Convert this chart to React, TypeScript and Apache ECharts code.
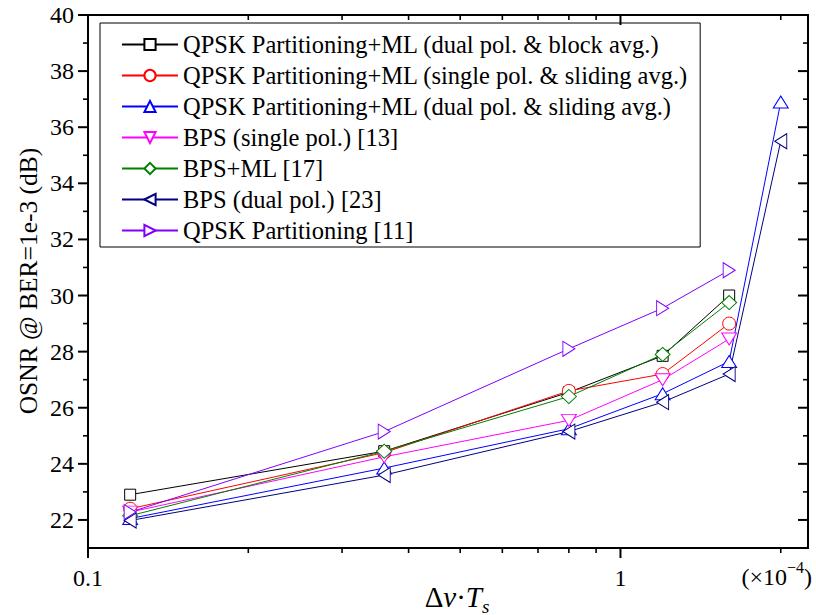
import React, { useEffect, useRef } from 'react';
import * as echarts from 'echarts';

const xValues = [0.12, 0.36, 0.8, 1.2, 1.6, 2.0];
const qpskMlDualBlock = [22.9, 24.45, 26.55, 27.85, 30.0];
const qpskMlSingleSliding = [22.4, 24.4, 26.6, 27.2, 29.0];
const qpskMlDualSliding = [22.05, 23.85, 25.25, 26.5, 27.65, 36.9];
const bpsSingle = [22.28, 24.25, 25.55, 27.0, 28.45];
const bpsMl = [22.15, 24.45, 26.4, 27.9, 29.75];
const bpsDual = [21.98, 23.6, 25.15, 26.2, 27.2, 35.5];
const qpskPartitioning = [22.28, 25.15, 28.1, 29.55, 30.9];

const seriesNames = [
  'QPSK Partitioning+ML (dual pol. & block avg.)',
  'QPSK Partitioning+ML (single pol. & sliding avg.)',
  'QPSK Partitioning+ML (dual pol. & sliding avg.)',
  'BPS (single pol.) [13]',
  'BPS+ML [17]',
  'BPS (dual pol.) [23]',
  'QPSK Partitioning [11]',
];
const seriesValues = [
  qpskMlDualBlock,
  qpskMlSingleSliding,
  qpskMlDualSliding,
  bpsSingle,
  bpsMl,
  bpsDual,
  qpskPartitioning,
];
const seriesColors = ['#000000', '#ff0000', '#0000ff', '#ff00ff', '#008000', '#000080', '#8000ff'];

const xMajorTicks = [0.1, 1];
const xMinorTicks = [0.2, 0.3, 0.4, 0.5, 0.6, 0.7, 0.8, 0.9, 2];
const yTickValues = [22, 23, 24, 25, 26, 27, 28, 29, 30, 31, 32, 33, 34, 35, 36, 37, 38, 39, 40];

const X_MIN = 0.1;
const X_MAX = 2.25;
const Y_MIN = 21;
const Y_MAX = 40;

const FONT = "'Liberation Serif', 'Times New Roman', serif";

function measure(text: string, font: string): number {
  const c = document.createElement('canvas');
  const ctx = c.getContext('2d');
  if (!ctx) return text.length * 10;
  ctx.font = font;
  return ctx.measureText(text).width;
}

const symbolDefs = [
  { symbol: 'rect', size: [11, 11], rotate: 0 },
  { symbol: 'circle', size: [13, 13], rotate: 0 },
  { symbol: 'triangle', size: [15, 12], rotate: 0 },
  { symbol: 'triangle', size: [15, 12], rotate: 180 },
  { symbol: 'diamond', size: [15, 14], rotate: 0 },
  { symbol: 'triangle', size: [15, 12], rotate: 90 },
  { symbol: 'triangle', size: [15, 12], rotate: -90 },
];

export default function App() {
  const ref = useRef<HTMLDivElement>(null);

  useEffect(() => {
    if (!ref.current) return;
    const chart = echarts.init(ref.current, undefined, { renderer: 'svg' });

    const lineSeries = seriesNames.map((name, i) => ({
      name,
      type: 'line',
      data: seriesValues[i].map((v, j) => [xValues[j], v]),
      symbol: symbolDefs[i].symbol,
      symbolSize: symbolDefs[i].size,
      symbolRotate: symbolDefs[i].rotate,
      showSymbol: true,
      lineStyle: { color: seriesColors[i], width: 1 },
      itemStyle: { color: '#ffffff', borderColor: seriesColors[i], borderWidth: 1 },
      emphasis: { disabled: true },
      z: 3,
    }));

    const xTickData = [
      ...xMajorTicks.map((v) => [v, Y_MIN, 1]),
      ...xMinorTicks.map((v) => [v, Y_MIN, 0]),
    ];
    const yTickData = yTickValues.map((v) => [X_MIN, v, v % 2 === 0 ? 1 : 0]);

    const tickStyle = (major: number) => ({ stroke: '#000', lineWidth: major ? 2 : 1.6 });

    const xTickSeries = {
      type: 'custom',
      name: 'xticks',
      silent: true,
      clip: false,
      z: 5,
      encode: { x: 0, y: 1 },
      data: xTickData,
      renderItem: (params: any, api: any) => {
        const v = api.value(0);
        const major = api.value(2);
        const b = api.coord([v, Y_MIN]);
        const t = api.coord([v, Y_MAX]);
        const len = major ? 10 : 5;
        return {
          type: 'group',
          children: [
            { type: 'line', shape: { x1: b[0], y1: b[1], x2: b[0], y2: b[1] + len }, style: tickStyle(major) },
            { type: 'line', shape: { x1: t[0], y1: t[1], x2: t[0], y2: t[1] + len }, style: tickStyle(major) },
          ],
        };
      },
    };

    const yTickSeries = {
      type: 'custom',
      name: 'yticks',
      silent: true,
      clip: false,
      z: 5,
      encode: { x: 0, y: 1 },
      data: yTickData,
      renderItem: (params: any, api: any) => {
        const v = api.value(1);
        const major = api.value(2);
        const l = api.coord([X_MIN, v]);
        const r = api.coord([X_MAX, v]);
        const len = major ? 10 : 5;
        return {
          type: 'group',
          children: [
            { type: 'line', shape: { x1: l[0] - len, y1: l[1], x2: l[0], y2: l[1] }, style: tickStyle(major) },
            { type: 'line', shape: { x1: r[0] - len, y1: r[1], x2: r[0], y2: r[1] }, style: tickStyle(major) },
          ],
        };
      },
    };

    // X axis title pieces
    const tFont = 29;
    const subFont = 19;
    const fN = `${tFont}px ${FONT}`;
    const fI = `italic ${tFont}px ${FONT}`;
    const fS = `italic ${subFont}px ${FONT}`;
    const pieces = [
      { t: 'Δ', f: fN, style: 'normal', size: tFont, dy: 0 },
      { t: 'v', f: fI, style: 'italic', size: tFont, dy: 0 },
      { t: '·', f: fN, style: 'normal', size: tFont, dy: 0 },
      { t: 'T', f: fI, style: 'italic', size: tFont, dy: 0 },
      { t: 's', f: fS, style: 'italic', size: subFont, dy: 9 },
    ];
    const widths = pieces.map((p) => measure(p.t, p.f));
    const total = widths.reduce((a, b) => a + b, 0);
    let cx = 457 - total / 2;
    const titleEls: any[] = pieces.map((p, i) => {
      const el = {
        type: 'text',
        x: cx,
        y: 597 + p.dy,
        silent: true,
        style: {
          text: p.t,
          fontFamily: FONT,
          fontSize: p.size,
          fontStyle: p.style,
          fill: '#000',
          textAlign: 'left',
          verticalAlign: 'middle',
        },
      };
      cx += widths[i];
      return el;
    });

    // (x10^-4)
    const uFont = 24;
    const supFont = 16;
    const uA = '(×10';
    const uB = '−4';
    const uC = ')';
    const wA = measure(uA, `${uFont}px ${FONT}`);
    const wB = measure(uB, `${supFont}px ${FONT}`);
    const wC = measure(uC, `${uFont}px ${FONT}`);
    const uRight = 812;
    const uStart = uRight - (wA + wB + wC);
    const unitEls: any[] = [
      { t: uA, x: uStart, y: 577, s: uFont },
      { t: uB, x: uStart + wA, y: 567, s: supFont },
      { t: uC, x: uStart + wA + wB, y: 577, s: uFont },
    ].map((p) => ({
      type: 'text',
      x: p.x,
      y: p.y,
      silent: true,
      style: {
        text: p.t,
        fontFamily: FONT,
        fontSize: p.s,
        fill: '#000',
        textAlign: 'left',
        verticalAlign: 'middle',
      },
    }));

    const option: any = {
      animation: false,
      backgroundColor: '#ffffff',
      grid: {
        left: 88,
        right: 8,
        top: 15,
        bottom: 67,
        show: true,
        borderColor: '#000',
        borderWidth: 2,
        backgroundColor: 'transparent',
      },
      xAxis: {
        type: 'log',
        logBase: 10,
        min: X_MIN,
        max: X_MAX,
        axisLine: { show: false },
        axisTick: { show: false },
        splitLine: { show: false },
        minorTick: { show: false },
        axisLabel: {
          margin: 18,
          fontFamily: FONT,
          fontSize: 24,
          color: '#000',
          showMaxLabel: false,
          formatter: (v: number) => {
            const l = Math.log10(v);
            return Math.abs(l - Math.round(l)) < 1e-6 ? String(Math.round(v * 10) / 10) : '';
          },
        },
      },
      yAxis: {
        type: 'value',
        min: Y_MIN,
        max: Y_MAX,
        interval: 1,
        axisLine: { show: false },
        axisTick: { show: false },
        splitLine: { show: false },
        axisLabel: {
          margin: 14,
          fontFamily: FONT,
          fontSize: 24,
          color: '#000',
          formatter: (v: number) => (v % 2 === 0 ? String(v) : ''),
        },
      },
      legend: {
        data: seriesNames,
        orient: 'vertical',
        left: 100,
        top: 23,
        padding: [9, 12, 4, 21],
        itemGap: 6,
        itemWidth: 56,
        itemHeight: 14,
        borderColor: '#000',
        borderWidth: 1,
        backgroundColor: '#fff',
        selectedMode: false,
        textStyle: { fontFamily: FONT, fontSize: 24.5, color: '#000' },
      },
      graphic: [
        {
          type: 'text',
          x: 28,
          y: 281,
          rotation: Math.PI / 2,
          silent: true,
          style: {
            text: 'OSNR @ BER=1e-3 (dB)',
            fontFamily: FONT,
            fontSize: 25.5,
            fill: '#000',
            textAlign: 'center',
            verticalAlign: 'middle',
          },
        },
        ...titleEls,
        ...unitEls,
      ],
      series: [...lineSeries, xTickSeries, yTickSeries],
    };

    chart.setOption(option);
    return () => chart.dispose();
  }, []);

  return (
    <div
      ref={ref}
      style={{ position: 'fixed', left: 0, top: 0, width: 816, height: 615, background: '#fff' }}
    />
  );
}
